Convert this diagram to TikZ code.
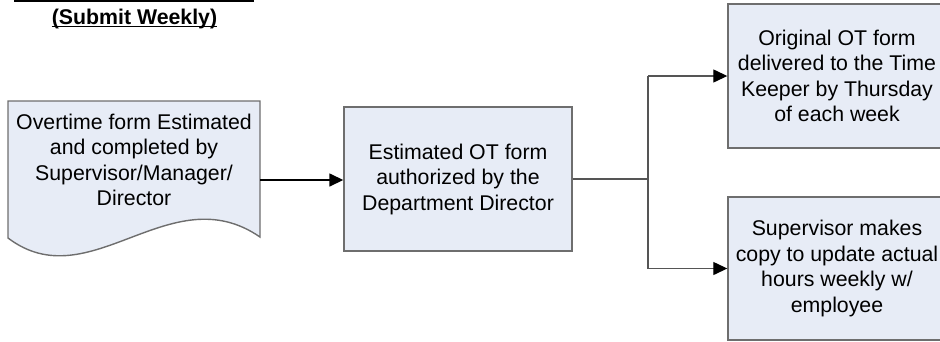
\documentclass[tikz,border=0pt]{standalone}
\usepackage{fontspec}
\setmainfont{Liberation Sans}
\usepackage{tikz}
\usetikzlibrary{positioning,arrows.meta,calc}
\usepackage{xcolor}
\definecolor{otInk}{HTML}{000000}
\definecolor{otEdge}{HTML}{6E6E6E}
\definecolor{otWire}{HTML}{555555}
\definecolor{otFill}{HTML}{E7ECF6}
\tikzset{
  stepbox/.style   = {draw=otEdge, line width=1.4pt, fill=otFill, align=center,
                      inner sep=0pt, font=\fontsize{21.3}{25.5}\selectfont},
  docshape/.style  = {draw=otEdge, line width=1.4pt, fill=otFill},
  doctext/.style   = {align=center, inner sep=0pt, font=\fontsize{21.3}{25.5}\selectfont},
  link/.style      = {-{Triangle[length=14pt,width=13pt]}, line width=1.5pt, draw=otInk},
  wire/.style      = {line width=1.3pt, draw=otWire},
  branch/.style    = {wire, -{Triangle[length=14pt,width=13pt,fill=otInk,color=otInk]}},
  heading/.style   = {font=\bfseries\fontsize{21.3}{25.5}\selectfont, inner sep=0pt, anchor=base},
}

\begin{document}
\begin{tikzpicture}[x=1pt, y=-1pt]
  \useasboundingbox (0,0) rectangle (940,341);

  % heading, its rule runs off the top edge
  \draw[line width=2.5pt, draw=otInk] (14,1) -- (254,1);
  \node[heading] (title) at (134.5,24) {(Submit Weekly)};
  \draw[line width=1.3pt] ([yshift=-2.2pt]title.base west) -- ([yshift=-2.2pt]title.base east);

  % document shape with a wavy lower edge
  \draw[docshape] (8,101) -- (260,101) -- (260,237)
    .. controls (170,175) and (90,300) .. (8,238) -- cycle;
  \node[doctext] (form) at (134,160)
    {Overtime form Estimated\\and completed by\\Supervisor/Manager/\\Director};
  \coordinate (formR) at (260,180);

  \node[stepbox, minimum width=228pt, minimum height=144pt] (auth) at (458,179)
    {Estimated OT form\\authorized by the\\Department Director};
  \node[stepbox, minimum width=218pt, minimum height=144pt] (keeper) at (837,76)
    {Original OT form\\delivered to the Time\\Keeper by Thursday\\of each week};
  \node[stepbox, minimum width=218pt, minimum height=143pt] (copy) at (837,268.5)
    {Supervisor makes\\copy to update actual\\hours weekly w/\\employee};

  \draw[link] (formR) -- (formR -| auth.west);

  % split towards the two outcomes
  \coordinate (fork) at (648,179);
  \draw[wire] (auth.east) -- (fork);
  \draw[wire] (fork |- keeper.west) -- (fork |- copy.west);
  \draw[branch] (fork |- keeper.west) -- (keeper.west);
  \draw[branch] (fork |- copy.west) -- (copy.west);
\end{tikzpicture}
\end{document}
